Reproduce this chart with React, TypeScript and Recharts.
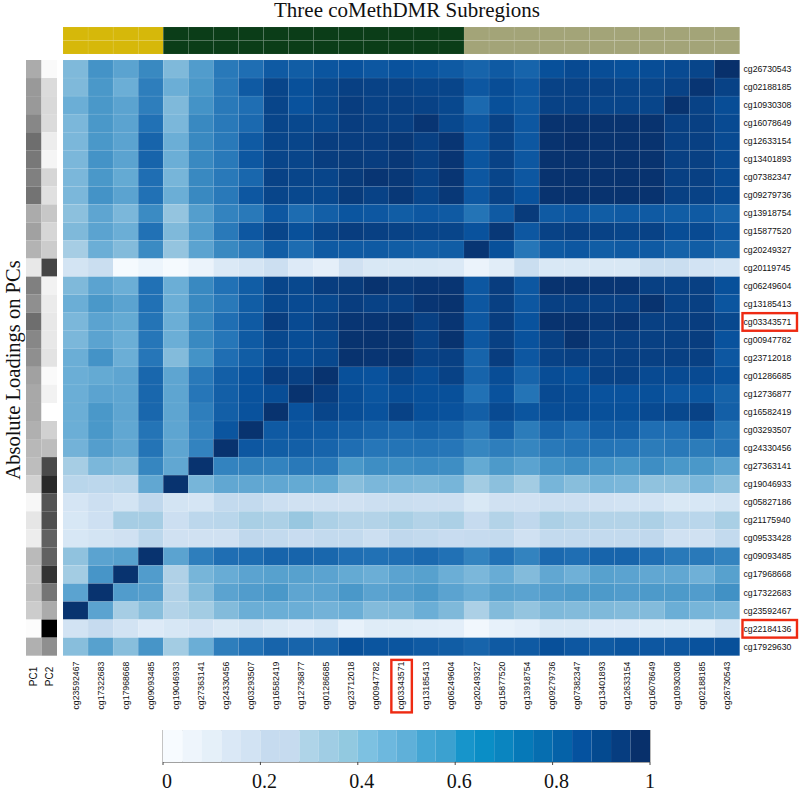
import { ReferenceLine, Scatter, ScatterChart, XAxis, YAxis } from 'recharts';

const rowLabels = [
  'cg26730543', 'cg02188185', 'cg10930308', 'cg16078649', 'cg12633154', 'cg13401893', 'cg07382347',
  'cg09279736', 'cg13918754', 'cg15877520', 'cg20249327', 'cg20119745', 'cg06249604', 'cg13185413',
  'cg03343571', 'cg00947782', 'cg23712018', 'cg01286685', 'cg12736877', 'cg16582419', 'cg03293507',
  'cg24330456', 'cg27363141', 'cg19046933', 'cg05827186', 'cg21175940', 'cg09533428', 'cg09093485',
  'cg17968668', 'cg17322683', 'cg23592467', 'cg22184136', 'cg17929630',
];

const columnLabels = [
  'cg23592467', 'cg17322683', 'cg17968668', 'cg09093485', 'cg19046933', 'cg27363141', 'cg24330456',
  'cg03293507', 'cg16582419', 'cg12736877', 'cg01286685', 'cg23712018', 'cg00947782', 'cg03343571',
  'cg13185413', 'cg06249604', 'cg20249327', 'cg15877520', 'cg13918754', 'cg09279736', 'cg07382347',
  'cg13401893', 'cg12633154', 'cg16078649', 'cg10930308', 'cg02188185', 'cg26730543',
];

// one row per rowLabels entry, one value per columnLabels entry
const correlations = [
  [.45, .62, .55, .66, .45, .58, .72, .76, .84, .83, .86, .87, .85, .87, .86, .84, .80, .84, .80, .88, .90, .89, .88, .89, .90, .92, 1],
  [.45, .60, .50, .70, .50, .60, .72, .84, .92, .88, .91, .94, .93, .93, .92, .92, .85, .89, .85, .93, .93, .93, .92, .92, .93, .98, .93],
  [.50, .60, .55, .70, .45, .62, .72, .76, .92, .87, .91, .95, .93, .94, .93, .91, .78, .88, .84, .93, .93, .92, .92, .92, .99, .93, .89],
  [.46, .60, .55, .75, .46, .66, .72, .78, .92, .91, .91, .95, .94, .94, .98, .91, .85, .93, .85, .99, .99, .99, .99, .99, .94, .94, .90],
  [.46, .60, .55, .80, .50, .66, .72, .84, .92, .92, .95, .95, .95, .97, .94, .98, .85, .93, .85, .99, 1, .99, .99, .99, .94, .94, .90],
  [.46, .62, .55, .80, .50, .66, .72, .85, .92, .92, .95, .96, .95, .97, .94, .98, .86, .93, .85, .99, .99, .99, .99, .99, .94, .94, .90],
  [.46, .60, .52, .76, .47, .66, .72, .79, .93, .92, .92, .96, .98, .97, .93, .98, .85, .92, .85, .99, .99, .99, .99, .99, .94, .94, .90],
  [.46, .62, .55, .75, .50, .66, .72, .85, .92, .91, .91, .96, .93, .97, .92, .97, .85, .93, .87, .99, .99, .99, .99, .99, .94, .93, .90],
  [.42, .54, .46, .65, .40, .57, .68, .72, .85, .77, .82, .86, .85, .83, .85, .84, .74, .84, .96, .84, .85, .83, .84, .84, .83, .84, .80],
  [.45, .55, .50, .75, .45, .58, .72, .85, .92, .88, .92, .95, .94, .93, .92, .92, .87, .97, .85, .93, .94, .93, .92, .93, .89, .90, .85],
  [.35, .50, .44, .65, .40, .55, .66, .72, .83, .77, .84, .84, .84, .83, .82, .83, .98, .88, .73, .84, .85, .83, .84, .84, .81, .83, .79],
  [.18, .23, .01, .05, .01, .06, .14, .17, .22, .13, .09, .20, .15, .15, .15, .14, .06, .11, .23, .15, .15, .15, .15, .23, .23, .19, .17],
  [.45, .55, .50, .75, .50, .66, .75, .83, .92, .91, .95, .96, .99, .97, .98, .98, .85, .95, .85, .99, .99, .98, .98, .94, .93, .94, .88],
  [.50, .60, .55, .75, .50, .66, .72, .83, .91, .90, .91, .95, .93, .94, .98, .99, .85, .94, .85, .94, .94, .94, .94, .99, .93, .94, .86],
  [.46, .55, .52, .74, .50, .66, .76, .84, .95, .90, .94, .98, .98, .99, .94, .98, .85, .95, .87, .99, .99, .97, .98, .94, .94, .95, .91],
  [.46, .55, .50, .73, .50, .66, .73, .84, .91, .89, .91, .99, .99, .99, .93, .99, .85, .94, .87, .94, .99, .94, .94, .94, .94, .95, .87],
  [.50, .62, .50, .73, .44, .62, .76, .83, .90, .89, .91, .99, .98, .99, .93, .94, .80, .95, .85, .93, .94, .93, .94, .94, .94, .94, .85],
  [.50, .52, .54, .79, .54, .72, .82, .87, .95, .94, .99, .88, .87, .92, .89, .93, .80, .89, .80, .89, .88, .93, .93, .90, .90, .90, .87],
  [.50, .55, .54, .79, .54, .73, .82, .87, .89, .99, .95, .89, .86, .89, .88, .88, .75, .87, .74, .90, .89, .87, .87, .88, .85, .86, .81],
  [.50, .60, .54, .79, .54, .70, .82, .87, .99, .87, .92, .89, .87, .93, .88, .87, .82, .90, .86, .89, .89, .88, .88, .90, .91, .93, .82],
  [.50, .60, .53, .74, .54, .68, .86, .99, .84, .85, .84, .82, .80, .79, .81, .79, .72, .82, .71, .80, .76, .82, .82, .76, .76, .82, .74],
  [.48, .57, .53, .74, .54, .68, .99, .85, .83, .82, .80, .76, .73, .74, .74, .73, .67, .70, .67, .72, .74, .74, .73, .71, .72, .71, .73],
  [.35, .46, .44, .67, .53, .99, .68, .69, .68, .72, .72, .60, .64, .64, .65, .64, .52, .59, .55, .62, .64, .62, .60, .64, .60, .60, .55],
  [.29, .28, .29, .53, .99, .47, .53, .53, .53, .52, .52, .43, .46, .46, .45, .47, .36, .42, .36, .47, .43, .47, .46, .41, .41, .46, .42],
  [.17, .22, .18, .27, .18, .17, .26, .26, .22, .20, .20, .20, .22, .23, .22, .22, .15, .20, .20, .22, .22, .20, .19, .19, .15, .16, .18],
  [.16, .21, .35, .35, .22, .28, .29, .34, .33, .39, .33, .31, .31, .34, .31, .33, .25, .31, .27, .33, .31, .31, .31, .33, .29, .29, .34],
  [.16, .18, .20, .28, .20, .20, .20, .27, .26, .24, .26, .26, .22, .27, .26, .24, .25, .26, .20, .26, .26, .26, .26, .27, .20, .20, .26],
  [.41, .55, .56, .99, .55, .70, .76, .77, .80, .80, .79, .76, .75, .76, .78, .75, .68, .75, .68, .78, .76, .80, .80, .76, .72, .72, .68],
  [.36, .61, .99, .58, .32, .47, .51, .55, .56, .56, .55, .52, .50, .55, .56, .50, .46, .51, .44, .53, .49, .56, .55, .53, .53, .49, .56],
  [.55, .99, .58, .57, .32, .44, .55, .58, .60, .54, .55, .60, .55, .57, .60, .55, .51, .56, .55, .58, .59, .59, .58, .59, .59, .58, .63],
  [.99, .55, .35, .43, .31, .36, .44, .50, .50, .50, .48, .50, .44, .45, .50, .45, .33, .44, .40, .45, .44, .45, .44, .44, .50, .47, .46],
  [.19, .25, .19, .13, .16, .19, .15, .18, .15, .13, .16, .08, .12, .12, .11, .10, .03, .08, .10, .15, .15, .13, .13, .12, .12, .12, .18],
  [.43, .56, .43, .61, .36, .50, .70, .75, .80, .80, .80, .88, .86, .86, .84, .83, .80, .84, .84, .88, .85, .84, .86, .85, .85, .87, .88],
];

const pc1Loadings = [
  .33, .40, .40, .47, .57, .53, .50, .55, .33, .37, .30, .09, .50, .44, .57, .47, .44,
  .37, .34, .34, .31, .28, .26, .18, .03, .10, .07, .27, .23, .25, .20, .01, .31,
];
const pc2Loadings = [
  .02, .14, .15, .14, .07, .04, .16, .12, .22, .16, .20, .73, .05, .08, .09, .09, .11,
  .02, .05, 0, .18, .26, .71, .84, .67, .69, .62, .62, .80, .54, .33, 1, .44,
];
const pcLabels = ['PC1', 'PC2'];

const subregionSizes = [4, 12, 11];
const subregionColors = ['#d6b80a', '#0b3d18', '#a3a478'];

const highlighted = ['cg03343571', 'cg22184136'];

const legendTicks = [0, 0.2, 0.4, 0.6, 0.8, 1];
const legendColors = [
  '#f7fbff', '#eef5fc', '#e5f0f9', '#dae8f6', '#d2e3f3', '#c6dbef', '#c6dbef', '#afd4e8', '#a0cde4',
  '#92c9e0', '#7dc1e1', '#6db8de', '#5fb0d9', '#45a6d4', '#3ba1d0', '#1795cb', '#0a8ec6', '#0a85c0',
  '#0679b8', '#066eb0', '#0562a8', '#05529f', '#044a90', '#063d80', '#08306b',
];

const blues = ['#f7fbff', '#deebf7', '#c6dbef', '#9ecae1', '#6baed6', '#4292c6', '#2171b5', '#08519c', '#08306b'];

const serif = '"Liberation Serif", serif';
const sans = '"Liberation Sans", sans-serif';
const boxRed = '#ee2a12';

function blueFor(value: number) {
  const pos = Math.min(value, 0.9999) * (blues.length - 1);
  const i = Math.floor(pos);
  const parse = (hex: string, at: number) => parseInt(hex.slice(at, at + 2), 16);
  const mix = (at: number) =>
    Math.round(parse(blues[i], at) + (parse(blues[i + 1], at) - parse(blues[i], at)) * (pos - i));
  return `rgb(${mix(1)},${mix(3)},${mix(5)})`;
}

function greyFor(value: number) {
  const g = Math.round(255 * (1 - value));
  return `rgb(${g},${g},${g})`;
}

// draws one heatmap cell centred on the point the scatter scales give
const cellShape = (w: number, h: number, stroke: string) => (props: any) => (
  <rect
    x={props.cx - w / 2}
    y={props.cy - h / 2}
    width={w}
    height={h}
    fill={props.payload.fill}
    stroke={stroke}
    strokeWidth={0.8}
  />
);

const heatPoints = correlations.flatMap((row, r) =>
  row.map((v, c) => ({ x: c + 0.5, y: r + 0.5, fill: blueFor(v) })),
);

const pcPoints = [pc1Loadings, pc2Loadings].flatMap((col, c) =>
  col.map((v, r) => ({ x: c + 0.5, y: r + 0.5, fill: greyFor(v) })),
);

const stripColors = subregionSizes.flatMap((n, i) => Array(n).fill(subregionColors[i]));
const stripPoints = [0, 1].flatMap((r) =>
  stripColors.map((fill, c) => ({ x: c + 0.5, y: r + 0.5, fill })),
);

const legendPoints = legendColors.map((fill, i) => ({
  x: (i + 0.5) / legendColors.length,
  y: 0.5,
  fill,
}));

const plotLeft = 63;
const plotTop = 60;
const plotWidth = 676.7;
const plotHeight = 595.7;

const RightTick = ({ x, y, payload }: any) => {
  const label = rowLabels[Math.floor(payload.value)];
  return (
    <g>
      {highlighted.includes(label) && (
        <rect x={x + 2.8} y={y - 8.6} width={54.5} height={17.6} fill='none' stroke={boxRed} strokeWidth={2.4} />
      )}
      <text x={x + 3.8} y={y} dy={3} fontSize={8.7} fontFamily={sans} fill='#111'>
        {label}
      </text>
    </g>
  );
};

const BottomTick = ({ x, y, payload }: any) => {
  const label = columnLabels[Math.floor(payload.value)];
  return (
    <g>
      {highlighted.includes(label) && (
        <rect x={x - 10} y={y + 4.2} width={20.5} height={52.5} fill='none' stroke={boxRed} strokeWidth={2.4} />
      )}
      <text
        transform={`translate(${x},${y + 6}) rotate(-90)`}
        dy={3}
        textAnchor='end'
        fontSize={8.7}
        fontFamily={sans}
        fill='#111'
      >
        {label}
      </text>
    </g>
  );
};

const PcTick = ({ x, y, payload }: any) => (
  <text
    transform={`translate(${x},${y + 30.5}) rotate(-90)`}
    dy={3.4}
    fontSize={10}
    fontFamily={sans}
    fill='#111'
  >
    {pcLabels[Math.floor(payload.value)]}
  </text>
);

const LegendTick = ({ x, y, payload }: any) => (
  <text
    x={x + (payload.value === 1 ? 0 : 4)}
    y={y + 23}
    textAnchor='middle'
    fontSize={20}
    fontFamily={serif}
    fill='#111'
  >
    {payload.value}
  </text>
);

const holder = (left: number, top: number): React.CSSProperties => ({ position: 'absolute', left, top });

export default function App() {
  return (
    <div style={{ position: 'absolute', left: 0, top: 0, width: 800, height: 793, background: '#fff' }}>
      <div
        style={{
          ...holder(0, 0),
          width: 800,
          boxSizing: 'border-box',
          paddingLeft: 14,
          textAlign: 'center',
          fontFamily: serif,
          fontSize: 21,
          color: '#111',
          lineHeight: '20px',
        }}
      >
        Three coMethDMR Subregions
      </div>
      <div
        style={{
          position: 'absolute',
          left: 13,
          top: 370,
          transform: 'translate(-50%, -50%) rotate(-90deg)',
          whiteSpace: 'nowrap',
          fontFamily: serif,
          fontSize: 20.5,
          color: '#111',
        }}
      >
        Absolute Loadings on PCs
      </div>

      <div style={holder(plotLeft, 27)}>
        <ScatterChart width={plotWidth} height={27} margin={{ top: 0, right: 0, bottom: 0, left: 0 }}>
          <XAxis type='number' dataKey='x' domain={[0, columnLabels.length]} hide />
          <YAxis type='number' dataKey='y' domain={[0, 2]} hide />
          <Scatter
            data={stripPoints}
            isAnimationActive={false}
            shape={cellShape(plotWidth / columnLabels.length, 13.5, 'rgba(255,255,255,0.07)')}
          />
        </ScatterChart>
      </div>

      <div style={holder(26, plotTop)}>
        <ScatterChart width={31} height={plotHeight + 50} margin={{ top: 0, right: 0, bottom: 0, left: 0 }}>
          <XAxis
            type='number'
            dataKey='x'
            domain={[0, 2]}
            ticks={[0.5, 1.5]}
            interval={0}
            height={50}
            axisLine={false}
            tickLine={false}
            tickSize={0}
            tickMargin={0}
            tick={<PcTick />}
          />
          <YAxis type='number' dataKey='y' domain={[0, rowLabels.length]} reversed hide />
          <Scatter
            data={pcPoints}
            isAnimationActive={false}
            shape={cellShape(15.5, plotHeight / rowLabels.length, 'none')}
          />
        </ScatterChart>
      </div>

      <div style={holder(plotLeft, plotTop)}>
        <ScatterChart
          width={plotWidth + 60}
          height={plotHeight + 60}
          margin={{ top: 0, right: 0, bottom: 0, left: 0 }}
        >
          <XAxis
            type='number'
            dataKey='x'
            domain={[0, columnLabels.length]}
            ticks={columnLabels.map((_, i) => i + 0.5)}
            interval={0}
            height={60}
            axisLine={false}
            tickLine={false}
            tickSize={0}
            tickMargin={0}
            tick={<BottomTick />}
          />
          <YAxis
            type='number'
            dataKey='y'
            orientation='right'
            reversed
            domain={[0, rowLabels.length]}
            ticks={rowLabels.map((_, i) => i + 0.5)}
            interval={0}
            width={60}
            axisLine={false}
            tickLine={false}
            tickSize={0}
            tickMargin={0}
            tick={<RightTick />}
          />
          <Scatter
            data={heatPoints}
            isAnimationActive={false}
            shape={cellShape(plotWidth / columnLabels.length, plotHeight / rowLabels.length, 'rgba(255,255,255,0.06)')}
          />
        </ScatterChart>
      </div>

      <div style={holder(155, 730)}>
        <ScatterChart width={505} height={62} margin={{ top: 0, right: 10, bottom: 0, left: 8 }}>
          <XAxis
            type='number'
            dataKey='x'
            domain={[0, 1]}
            ticks={legendTicks}
            interval={0}
            height={30}
            axisLine={{ stroke: '#444' }}
            tickLine={{ stroke: '#444' }}
            tickSize={3}
            tickMargin={0}
            tick={<LegendTick />}
          />
          <YAxis type='number' dataKey='y' domain={[0, 1]} hide />
          <Scatter
            data={legendPoints}
            isAnimationActive={false}
            shape={cellShape(487 / legendColors.length, 32, 'none')}
          />
          <ReferenceLine y={1} stroke='#999' />
          <ReferenceLine x={0} stroke='#888' />
          <ReferenceLine x={1} stroke='#777' />
        </ScatterChart>
      </div>
    </div>
  );
}
